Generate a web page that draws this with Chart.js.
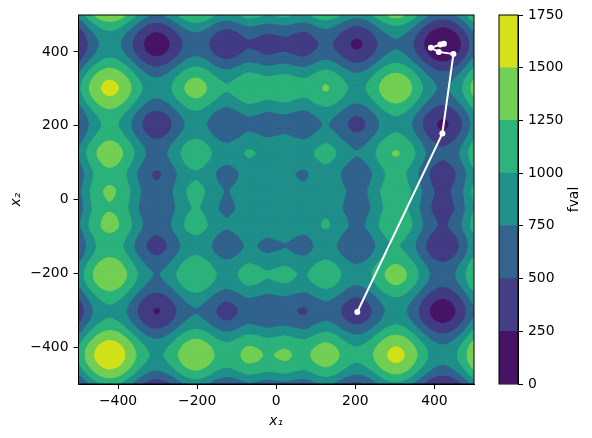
<!DOCTYPE html>
<html>
<head>
<meta charset="utf-8">
<script src="https://cdn.jsdelivr.net/npm/chart.js@4"></script>
<style>
  body { margin: 0; background: #fff; }
  canvas { position: absolute; left: 0; top: 0; }
</style>
</head>
<body>
<canvas id="chart" width="592" height="438"></canvas>
<canvas id="bar" width="592" height="438"></canvas>
<script>
const x1Ticks = [-400, -200, 0, 200, 400];
const x2Ticks = [-400, -200, 0, 200, 400];
const barTicks = [0, 250, 500, 750, 1000, 1250, 1500, 1750];
const levels = [0, 250, 500, 750, 1000, 1250, 1500, 1750];
const bandColors = ['#471365', '#433e85', '#32648e', '#21918c', '#2eb37c', '#73d056', '#d3e21b'];

const pathX1 = [205, 420, 448, 411, 391, 415, 424];
const pathX2 = [-305, 179, 394, 400, 411, 420, 422];

// grid spacing is 25, x1 runs -500..500 along a row, x2 runs -500..500 down the rows
const gridStart = -500;
const gridStep = 25;
const fval = [
[476,751,973,1074,1022,842,608,419,357,446,631,803,857,765,610,534,603,709,692,633,657,681,622,605,711,780,704,549,457,511,683,868,957,895,706,472,292,240,341,563,838],
[751,1026,1248,1349,1297,1117,883,694,632,721,906,1078,1132,1040,885,809,878,984,967,908,932,956,897,880,986,1055,979,824,732,786,958,1143,1232,1170,981,747,567,515,616,838,1113],
[973,1248,1470,1571,1519,1339,1105,916,854,943,1128,1300,1354,1262,1107,1031,1100,1206,1189,1130,1154,1178,1119,1102,1208,1277,1201,1046,954,1008,1180,1365,1454,1392,1203,969,789,737,838,1060,1335],
[1074,1349,1571,1672,1620,1440,1206,1017,955,1044,1229,1401,1455,1363,1208,1132,1201,1307,1290,1231,1255,1279,1220,1203,1309,1378,1302,1147,1055,1109,1281,1466,1555,1493,1304,1070,890,838,939,1161,1436],
[1022,1297,1519,1620,1568,1388,1154,965,903,992,1177,1349,1403,1311,1156,1080,1149,1255,1238,1179,1203,1227,1168,1151,1257,1326,1250,1095,1003,1057,1229,1414,1503,1441,1252,1018,838,786,887,1109,1384],
[842,1117,1339,1440,1388,1208,974,785,723,812,997,1169,1223,1131,976,900,969,1075,1058,999,1023,1047,988,971,1077,1146,1070,915,823,877,1049,1234,1323,1261,1072,838,658,606,707,929,1204],
[608,883,1105,1206,1154,974,740,551,489,578,763,935,989,897,742,666,735,841,824,765,789,813,754,737,843,912,836,681,589,643,815,1000,1089,1027,838,604,424,372,473,695,970],
[419,694,916,1017,965,785,551,362,300,389,574,746,800,708,553,477,546,652,635,576,600,624,565,548,654,723,647,492,400,454,626,811,900,838,649,415,235,183,284,506,781],
[357,632,854,955,903,723,489,300,238,327,512,684,738,646,491,415,484,590,573,514,538,562,503,486,592,661,585,430,338,392,564,749,838,776,587,353,173,121,222,444,719],
[446,721,943,1044,992,812,578,389,327,416,601,773,827,735,580,504,573,679,662,603,627,651,592,575,681,750,674,519,427,481,653,838,927,865,676,442,262,210,311,533,808],
[631,906,1128,1229,1177,997,763,574,512,601,786,958,1012,920,765,689,758,864,847,788,812,836,777,760,866,935,859,704,612,666,838,1023,1112,1050,861,627,447,395,496,718,993],
[803,1078,1300,1401,1349,1169,935,746,684,773,958,1130,1184,1092,937,861,930,1036,1019,960,984,1008,949,932,1038,1107,1031,876,784,838,1010,1195,1284,1222,1033,799,619,567,668,890,1165],
[857,1132,1354,1455,1403,1223,989,800,738,827,1012,1184,1238,1146,991,915,984,1090,1073,1014,1038,1062,1003,986,1092,1161,1085,930,838,892,1064,1249,1338,1276,1087,853,673,621,722,944,1219],
[765,1040,1262,1363,1311,1131,897,708,646,735,920,1092,1146,1054,899,823,892,998,981,922,946,970,911,894,1000,1069,993,838,746,800,972,1157,1246,1184,995,761,581,529,630,852,1127],
[610,885,1107,1208,1156,976,742,553,491,580,765,937,991,899,744,668,737,843,826,767,791,815,756,739,845,914,838,683,591,645,817,1002,1091,1029,840,606,426,374,475,697,972],
[534,809,1031,1132,1080,900,666,477,415,504,689,861,915,823,668,592,661,767,750,691,715,739,680,663,769,838,762,607,515,569,741,926,1015,953,764,530,350,298,399,621,896],
[603,878,1100,1201,1149,969,735,546,484,573,758,930,984,892,737,661,730,836,819,760,784,808,749,732,838,907,831,676,584,638,810,995,1084,1022,833,599,419,367,468,690,965],
[709,984,1206,1307,1255,1075,841,652,590,679,864,1036,1090,998,843,767,836,942,925,866,890,914,855,838,944,1013,937,782,690,744,916,1101,1190,1128,939,705,525,473,574,796,1071],
[692,967,1189,1290,1238,1058,824,635,573,662,847,1019,1073,981,826,750,819,925,908,849,873,897,838,821,927,996,920,765,673,727,899,1084,1173,1111,922,688,508,456,557,779,1054],
[633,908,1130,1231,1179,999,765,576,514,603,788,960,1014,922,767,691,760,866,849,790,814,838,779,762,868,937,861,706,614,668,840,1025,1114,1052,863,629,449,397,498,720,995],
[657,932,1154,1255,1203,1023,789,600,538,627,812,984,1038,946,791,715,784,890,873,814,838,862,803,786,892,961,885,730,638,692,864,1049,1138,1076,887,653,473,421,522,744,1019],
[681,956,1178,1279,1227,1047,813,624,562,651,836,1008,1062,970,815,739,808,914,897,838,862,886,827,810,916,985,909,754,662,716,888,1073,1162,1100,911,677,497,445,546,768,1043],
[622,897,1119,1220,1168,988,754,565,503,592,777,949,1003,911,756,680,749,855,838,779,803,827,768,751,857,926,850,695,603,657,829,1014,1103,1041,852,618,438,386,487,709,984],
[605,880,1102,1203,1151,971,737,548,486,575,760,932,986,894,739,663,732,838,821,762,786,810,751,734,840,909,833,678,586,640,812,997,1086,1024,835,601,421,369,470,692,967],
[711,986,1208,1309,1257,1077,843,654,592,681,866,1038,1092,1000,845,769,838,944,927,868,892,916,857,840,946,1015,939,784,692,746,918,1103,1192,1130,941,707,527,475,576,798,1073],
[780,1055,1277,1378,1326,1146,912,723,661,750,935,1107,1161,1069,914,838,907,1013,996,937,961,985,926,909,1015,1084,1008,853,761,815,987,1172,1261,1199,1010,776,596,544,645,867,1142],
[704,979,1201,1302,1250,1070,836,647,585,674,859,1031,1085,993,838,762,831,937,920,861,885,909,850,833,939,1008,932,777,685,739,911,1096,1185,1123,934,700,520,468,569,791,1066],
[549,824,1046,1147,1095,915,681,492,430,519,704,876,930,838,683,607,676,782,765,706,730,754,695,678,784,853,777,622,530,584,756,941,1030,968,779,545,365,313,414,636,911],
[457,732,954,1055,1003,823,589,400,338,427,612,784,838,746,591,515,584,690,673,614,638,662,603,586,692,761,685,530,438,492,664,849,938,876,687,453,273,221,322,544,819],
[511,786,1008,1109,1057,877,643,454,392,481,666,838,892,800,645,569,638,744,727,668,692,716,657,640,746,815,739,584,492,546,718,903,992,930,741,507,327,275,376,598,873],
[683,958,1180,1281,1229,1049,815,626,564,653,838,1010,1064,972,817,741,810,916,899,840,864,888,829,812,918,987,911,756,664,718,890,1075,1164,1102,913,679,499,447,548,770,1045],
[868,1143,1365,1466,1414,1234,1000,811,749,838,1023,1195,1249,1157,1002,926,995,1101,1084,1025,1049,1073,1014,997,1103,1172,1096,941,849,903,1075,1260,1349,1287,1098,864,684,632,733,955,1230],
[957,1232,1454,1555,1503,1323,1089,900,838,927,1112,1284,1338,1246,1091,1015,1084,1190,1173,1114,1138,1162,1103,1086,1192,1261,1185,1030,938,992,1164,1349,1438,1376,1187,953,773,721,822,1044,1319],
[895,1170,1392,1493,1441,1261,1027,838,776,865,1050,1222,1276,1184,1029,953,1022,1128,1111,1052,1076,1100,1041,1024,1130,1199,1123,968,876,930,1102,1287,1376,1314,1125,891,711,659,760,982,1257],
[706,981,1203,1304,1252,1072,838,649,587,676,861,1033,1087,995,840,764,833,939,922,863,887,911,852,835,941,1010,934,779,687,741,913,1098,1187,1125,936,702,522,470,571,793,1068],
[472,747,969,1070,1018,838,604,415,353,442,627,799,853,761,606,530,599,705,688,629,653,677,618,601,707,776,700,545,453,507,679,864,953,891,702,468,288,236,337,559,834],
[292,567,789,890,838,658,424,235,173,262,447,619,673,581,426,350,419,525,508,449,473,497,438,421,527,596,520,365,273,327,499,684,773,711,522,288,108,56,157,379,654],
[240,515,737,838,786,606,372,183,121,210,395,567,621,529,374,298,367,473,456,397,421,445,386,369,475,544,468,313,221,275,447,632,721,659,470,236,56,4,105,327,602],
[341,616,838,939,887,707,473,284,222,311,496,668,722,630,475,399,468,574,557,498,522,546,487,470,576,645,569,414,322,376,548,733,822,760,571,337,157,105,206,428,703],
[563,838,1060,1161,1109,929,695,506,444,533,718,890,944,852,697,621,690,796,779,720,744,768,709,692,798,867,791,636,544,598,770,955,1044,982,793,559,379,327,428,650,925],
[838,1113,1335,1436,1384,1204,970,781,719,808,993,1165,1219,1127,972,896,965,1071,1054,995,1019,1043,984,967,1073,1142,1066,911,819,873,1045,1230,1319,1257,1068,834,654,602,703,925,1200]
];

const font = { family: 'DejaVu Sans', size: 13.9 };
const minus = v => String(v).replace('-', '\u2212');

// rounds off the contour outlines only, the read values stay in fval
const smooth = 5;
function refine(line) {
  const out = [];
  for (let i = 0; i < line.length - 1; i++) {
    const a = line[Math.max(i - 1, 0)], b = line[i], c = line[i + 1], d = line[Math.min(i + 2, line.length - 1)];
    for (let s = 0; s < smooth; s++) {
      const t = s / smooth;
      out.push(b + 0.5 * t * (c - a + t * (2 * a - 5 * b + 4 * c - d + t * (3 * b - a - 3 * c + d))));
    }
  }
  out.push(line[line.length - 1]);
  return out;
}
const rowsFine = fval.map(refine);
const colsFine = rowsFine[0].map((_, i) => refine(rowsFine.map(r => r[i])));

// keep only the part of a cell that is at or above the level
function clipAbove(cell, level) {
  const out = [];
  cell.forEach((p, i) => {
    const q = cell[(i + 1) % cell.length];
    if (p[2] >= level) out.push(p);
    if ((p[2] >= level) !== (q[2] >= level)) {
      const t = (level - p[2]) / (q[2] - p[2]);
      out.push([p[0] + t * (q[0] - p[0]), p[1] + t * (q[1] - p[1]), level]);
    }
  });
  return out;
}

const contourPlugin = {
  id: 'contour',
  beforeDatasetsDraw(chart) {
    const { ctx, chartArea: a, scales: { x, y } } = chart;
    const step = gridStep / smooth;
    const n = colsFine.length;
    ctx.save();
    ctx.beginPath();
    ctx.rect(a.left, a.top, a.width, a.height);
    ctx.clip();
    ctx.fillStyle = bandColors[0];
    ctx.fillRect(a.left, a.top, a.width, a.height);
    for (let b = 1; b < bandColors.length; b++) {
      ctx.beginPath();
      for (let i = 0; i < n - 1; i++) {
        for (let j = 0; j < n - 1; j++) {
          const x0 = gridStart + i * step, y0 = gridStart + j * step;
          const poly = clipAbove([
            [x0, y0, colsFine[i][j]],
            [x0 + step, y0, colsFine[i + 1][j]],
            [x0 + step, y0 + step, colsFine[i + 1][j + 1]],
            [x0, y0 + step, colsFine[i][j + 1]]
          ], levels[b]);
          if (poly.length < 3) continue;
          poly.forEach((p, k) => {
            const px = x.getPixelForValue(p[0]), py = y.getPixelForValue(p[1]);
            if (k === 0) ctx.moveTo(px, py); else ctx.lineTo(px, py);
          });
          ctx.closePath();
        }
      }
      ctx.fillStyle = bandColors[b];
      ctx.strokeStyle = bandColors[b];
      ctx.lineWidth = 0.6;
      ctx.fill();
      ctx.stroke();
    }
    ctx.restore();
  }
};

const framePlugin = {
  id: 'frame',
  afterDraw(chart) {
    const { ctx, chartArea: a } = chart;
    ctx.save();
    ctx.strokeStyle = '#000';
    ctx.lineWidth = 1;
    ctx.strokeRect(a.left, a.top, a.width, a.height);
    ctx.restore();
  }
};

// the right axis title of Chart.js turns the other way
const barTitlePlugin = {
  id: 'barTitle',
  afterDraw(chart) {
    const { ctx, chartArea: a } = chart;
    ctx.save();
    ctx.translate(574, (a.top + a.bottom) / 2);
    ctx.rotate(-Math.PI / 2);
    ctx.font = '13.9px "DejaVu Sans"';
    ctx.fillStyle = '#000';
    ctx.textAlign = 'center';
    ctx.textBaseline = 'middle';
    ctx.fillText('fval', 0, 0);
    ctx.restore();
  }
};

function axisGrid() {
  return { drawOnChartArea: false, drawTicks: true, tickLength: 5, tickColor: '#000', tickWidth: 1 };
}

new Chart(document.getElementById('chart').getContext('2d'), {
  type: 'scatter',
  data: {
    datasets: [{
      data: pathX1.map((v, i) => ({ x: v, y: pathX2[i] })),
      showLine: true,
      borderColor: '#fff',
      borderWidth: 2,
      pointRadius: 3,
      pointBorderWidth: 0,
      pointBackgroundColor: '#fff'
    }]
  },
  plugins: [contourPlugin, framePlugin],
  options: {
    responsive: false,
    animation: false,
    devicePixelRatio: 1,
    layout: { padding: { left: 0, top: 15, right: 118, bottom: 0 } },
    plugins: { legend: { display: false }, tooltip: { enabled: false } },
    scales: {
      x: {
        type: 'linear', min: -500, max: 500,
        afterBuildTicks: s => { s.ticks = x1Ticks.map(v => ({ value: v })); },
        afterFit: s => { s.height = 54; },
        grid: axisGrid(),
        border: { color: '#000' },
        ticks: { color: '#000', font, maxRotation: 0, padding: 4, callback: minus },
        title: { display: true, text: 'x\u2081', color: '#000', font: { ...font, style: 'italic' }, padding: { top: 0, bottom: 8 } }
      },
      y: {
        type: 'linear', min: -500, max: 500,
        afterBuildTicks: s => { s.ticks = x2Ticks.map(v => ({ value: v })); },
        afterFit: s => { s.width = 78.5; },
        grid: axisGrid(),
        border: { color: '#000' },
        ticks: { color: '#000', font, padding: 5, callback: minus },
        title: { display: true, text: 'x\u2082', color: '#000', font: { ...font, style: 'italic' }, padding: { top: 8, bottom: 0 } }
      }
    }
  }
});

new Chart(document.getElementById('bar').getContext('2d'), {
  type: 'bar',
  data: {
    labels: ['fval'],
    datasets: bandColors.map((c, i) => ({
      data: [levels[i + 1] - levels[i]],
      backgroundColor: c,
      barPercentage: 1,
      categoryPercentage: 1
    }))
  },
  plugins: [framePlugin, barTitlePlugin],
  options: {
    responsive: false,
    animation: false,
    devicePixelRatio: 1,
    layout: { padding: { left: 499, top: 15, right: 0, bottom: 54 } },
    plugins: { legend: { display: false }, tooltip: { enabled: false } },
    scales: {
      x: { stacked: true, display: false },
      y: {
        stacked: true, position: 'right', min: 0, max: 1750,
        afterBuildTicks: s => { s.ticks = barTicks.map(v => ({ value: v })); },
        afterFit: s => { s.width = 74; },
        grid: axisGrid(),
        border: { color: '#000' },
        ticks: { color: '#000', font, padding: 5, callback: v => String(v) }
      }
    }
  }
});
</script>
</body>
</html>
